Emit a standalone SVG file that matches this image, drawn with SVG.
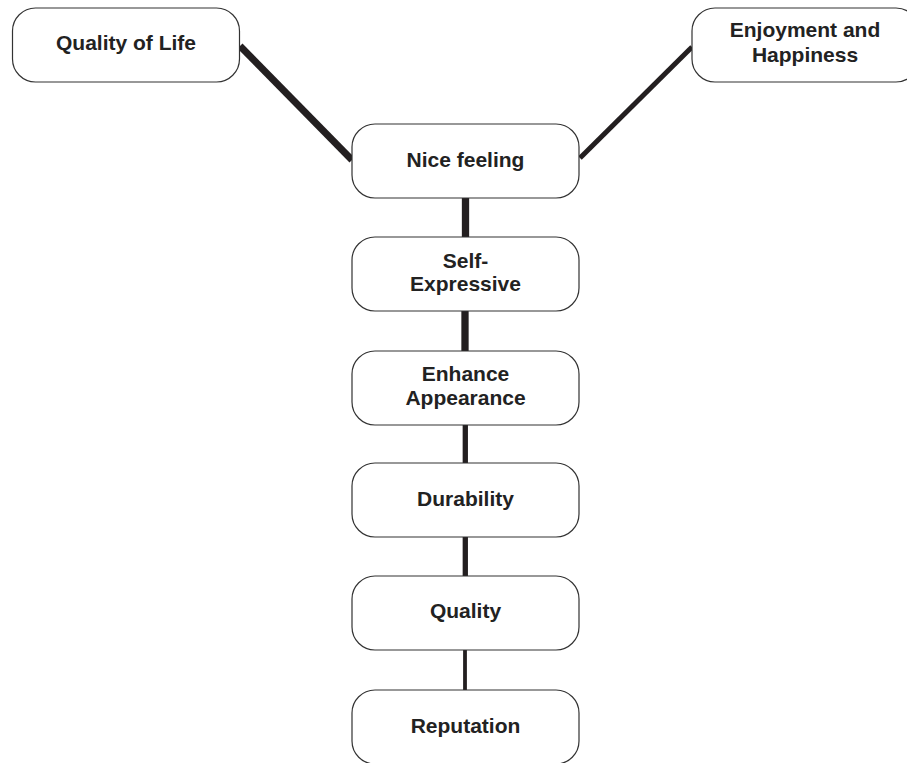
<svg xmlns="http://www.w3.org/2000/svg" width="907" height="763" viewBox="0 0 907 763">
<style>
.box{fill:#fff;stroke:#333;stroke-width:1.2}
.t{font-family:"Liberation Sans",Arial,sans-serif;font-weight:bold;font-size:21px;fill:#222;text-anchor:middle}
.c{stroke:#231f20;fill:none;stroke-linecap:butt}
</style>
<rect width="907" height="763" fill="#fff"/>
<g id="connectors">
<line class="c" x1="240" y1="46" x2="352" y2="160" stroke-width="7"/>
<line class="c" x1="580" y1="158" x2="692" y2="47" stroke-width="5"/>
<line class="c" x1="465.5" y1="198" x2="465.5" y2="237" stroke-width="7.3"/>
<line class="c" x1="465" y1="311" x2="465" y2="351" stroke-width="7.3"/>
<line class="c" x1="465.3" y1="425" x2="465.3" y2="463" stroke-width="5.3"/>
<line class="c" x1="465.3" y1="537" x2="465.3" y2="576" stroke-width="5.3"/>
<line class="c" x1="465" y1="650" x2="465" y2="690" stroke-width="3.8"/>
</g>
<g id="quality-of-life">
<rect class="box" x="12.5" y="8" width="227" height="74" rx="23"/>
<text class="t" x="126" y="50">Quality of Life</text>
</g>
<g id="enjoyment">
<rect class="box" x="692" y="8" width="227" height="74" rx="23"/>
<text class="t" x="805" y="37">Enjoyment and</text>
<text class="t" x="805" y="62">Happiness</text>
</g>
<g id="nice-feeling">
<rect class="box" x="352" y="124" width="227" height="74" rx="23"/>
<text class="t" x="465.5" y="167">Nice feeling</text>
</g>
<g id="self-expressive">
<rect class="box" x="352" y="237" width="227" height="74" rx="23"/>
<text class="t" x="465.5" y="268">Self-</text>
<text class="t" x="465.5" y="291">Expressive</text>
</g>
<g id="enhance-appearance">
<rect class="box" x="352" y="351" width="227" height="74" rx="23"/>
<text class="t" x="465.5" y="381">Enhance</text>
<text class="t" x="465.5" y="405">Appearance</text>
</g>
<g id="durability">
<rect class="box" x="352" y="463" width="227" height="74" rx="23"/>
<text class="t" x="465.5" y="506">Durability</text>
</g>
<g id="quality">
<rect class="box" x="352" y="576" width="227" height="74" rx="23"/>
<text class="t" x="465.5" y="618">Quality</text>
</g>
<g id="reputation">
<rect class="box" x="352" y="690" width="227" height="74" rx="23"/>
<text class="t" x="465.5" y="733">Reputation</text>
</g>
</svg>
